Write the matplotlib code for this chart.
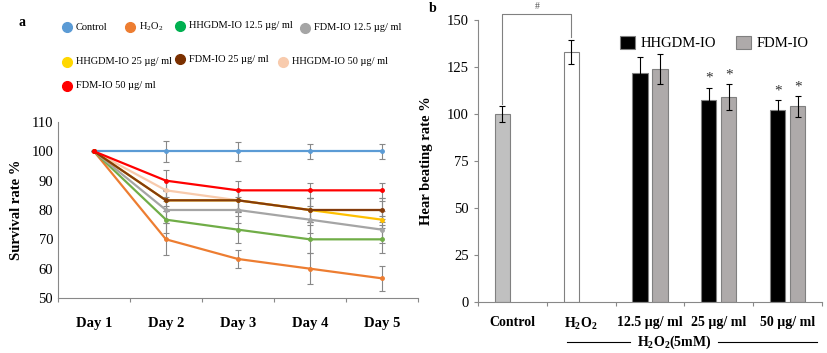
import numpy as np
import matplotlib
matplotlib.use('Agg')
import matplotlib.pyplot as plt
from matplotlib.lines import Line2D

plt.rcParams['font.family'] = ['Liberation Serif', 'DejaVu Serif']
plt.rcParams['mathtext.fontset'] = 'custom'
plt.rcParams['mathtext.rm'] = 'Liberation Serif'
plt.rcParams['mathtext.bf'] = 'Liberation Serif:bold'

# ---- panel a data ----
days = ['Day 1', 'Day 2', 'Day 3', 'Day 4', 'Day 5']
series_names = ['Control', 'H$_2$O$_2$', 'HHGDM-IO 12.5 µg/ ml', 'FDM-IO 12.5 µg/ ml',
                'HHGDM-IO 25 µg/ ml', 'FDM-IO 25 µg/ ml', 'HHGDM-IO 50 µg/ ml', 'FDM-IO 50 µg/ ml']
series_colors = ['#5B9BD5', '#ED7D31', '#70AD47', '#A5A5A5',
                 '#FFC000', '#843C0C', '#F8CBAD', '#FF0000']
legend_colors = ['#5B9BD5', '#ED7D31', '#00B050', '#A5A5A5',
                 '#FFD700', '#7B3000', '#F8CBAD', '#FF0000']
control = [100, 100, 100, 100, 100]
h2o2 = [100, 70, 63.3, 60, 56.7]
hh_125 = [100, 76.7, 73.3, 70, 70]
fdm_125 = [100, 80, 80, 76.7, 73.3]
hh_25 = [100, 83.3, 83.3, 80, 76.7]
fdm_25 = [100, 83.3, 83.3, 80, 80]
hh_50 = [100, 86.7, 83.3, 80, 80]
fdm_50 = [100, 90, 86.7, 86.7, 86.7]
err_control = [0, 3.5, 3.2, 2.5, 2.5]
err_h2o2 = [0, 5.5, 3.2, 5.3, 4.2]
err_hh_125 = [0, 4.5, 4.5, 4.8, 4.8]
err_fdm_125 = [0, 4.5, 4.5, 4.5, 4.5]
err_hh_25 = [0, 3.5, 4.0, 4.0, 3.0]
err_fdm_25 = [0, 3.5, 4.0, 4.0, 3.0]
err_hh_50 = [0, 3.5, 3.5, 4.0, 4.0]
err_fdm_50 = [0, 3.5, 3.2, 2.5, 2.5]

# ---- panel b data ----
groups = ['Control', 'H$_\\mathbf{2}$O$_\\mathbf{2}$', '12.5 µg/ ml', '25 µg/ ml', '50 µg/ ml']
single_vals = [100, 133]
single_errs = [4.5, 6.5]
hh_vals = [122, 107.5, 102]
hh_errs = [8.5, 6.5, 5.5]
fdm_vals = [124, 109, 104]
fdm_errs = [8.0, 7.0, 5.5]

fig = plt.figure(figsize=(8.27, 3.53), dpi=100)

# ---------------- panel a ----------------
ax = fig.add_axes([0.0701, 0.1558, 0.4353, 0.4986])
x = np.arange(len(days))
all_series = [control, h2o2, hh_125, fdm_125, hh_25, fdm_25, hh_50, fdm_50]
all_errs = [err_control, err_h2o2, err_hh_125, err_fdm_125, err_hh_25, err_fdm_25, err_hh_50, err_fdm_50]
for vals, errs in zip(all_series, all_errs):
    ax.errorbar(x, vals, yerr=errs, fmt='none', ecolor='#888888', elinewidth=0.8,
                capsize=2, capthick=0.8, zorder=2)
# drawing order: peach under yellow/brown, red on top
draw_order = [0, 1, 2, 3, 6, 4, 5, 7]
for i in draw_order:
    ax.plot(x, all_series[i], color=series_colors[i], lw=1.6, marker='o', ms=2.5, zorder=3)

ax.set_xlim(-0.5, 4.5)
ax.set_ylim(50, 110)
ax.set_yticks(range(50, 111, 10))
ax.set_xticks(np.arange(-0.5, 4.6, 1), minor=False)
ax.set_xticklabels([])
ax.set_xticks(x, minor=True)
ax.set_xticklabels(days, minor=True, fontweight='bold', fontsize=10.5)
ax.tick_params(axis='x', which='minor', length=0, pad=14)
ax.tick_params(axis='x', which='major', length=3, color='#888888')
ax.tick_params(axis='y', length=0, labelsize=10.5)
ax.spines['top'].set_visible(False)
ax.spines['right'].set_visible(False)
for s in ['left', 'bottom']:
    ax.spines[s].set_color('#888888')
ax.set_ylabel('Survival rate %', fontweight='bold', fontsize=10.5, labelpad=6)

fig.text(0.022, 0.925, 'a', fontweight='bold', fontsize=10)

# manual legend of panel a
leg_pos = [(67, 27), (130, 27), (180, 26), (305, 28),
           (67, 62), (180, 59), (283, 62), (67, 86)]
for (px, py), name, col in zip(leg_pos, series_names, legend_colors):
    fig.add_artist(Line2D([px / 827], [1 - py / 353], marker='o', ms=7, color=col,
                          ls='none', transform=fig.transFigure))
    fig.text((px + 9) / 827, 1 - py / 353, name, fontsize=7.5, va='center')

# ---------------- panel b ----------------
bx = fig.add_axes([0.578, 0.1445, 0.416, 0.7989])
bw = 0.22
off = 0.145
gx = np.arange(len(groups))
bx.bar(gx[0] - off, single_vals[0], bw, color='#C0C0C0', edgecolor='#808080', lw=0.8, zorder=2)
bx.bar(gx[1] - off, single_vals[1], bw, color='white', edgecolor='#808080', lw=0.8, zorder=2)
bx.errorbar(gx[:2] - off, single_vals, yerr=single_errs, fmt='none', ecolor='black',
            elinewidth=0.8, capsize=2, capthick=0.8, zorder=3)
bx.bar(gx[2:] - off, hh_vals, bw, color='black', edgecolor='#808080', lw=0.8,
       label='HHGDM-IO', zorder=2)
bx.bar(gx[2:] + off, fdm_vals, bw, color='#AEAAAA', edgecolor='#808080', lw=0.8,
       label='FDM-IO', zorder=2)
bx.errorbar(gx[2:] - off, hh_vals, yerr=hh_errs, fmt='none', ecolor='black',
            elinewidth=0.8, capsize=2, capthick=0.8, zorder=3)
bx.errorbar(gx[2:] + off, fdm_vals, yerr=fdm_errs, fmt='none', ecolor='black',
            elinewidth=0.8, capsize=2, capthick=0.8, zorder=3)

# significance stars
for i in [3, 4]:
    for xx, v, e in [(gx[i] - off, hh_vals[i - 2], hh_errs[i - 2]),
                     (gx[i] + off, fdm_vals[i - 2], fdm_errs[i - 2])]:
        bx.text(xx, v + e + 1.5, '*', ha='center', va='bottom', fontsize=11, color='#333333')

# bracket with #
bx.plot([gx[0] - off, gx[0] - off, gx[1] - off, gx[1] - off],
        [single_vals[0] + single_errs[0] + 1, 153, 153, single_vals[1] + single_errs[1] + 1.5],
        color='#808080', lw=0.8, clip_on=False)
bx.text((gx[0] + gx[1]) / 2 - off, 155, '#', ha='center', va='bottom', fontsize=7, color='#555555')

bx.set_xlim(-0.5, 4.5)
bx.set_ylim(0, 150)
bx.set_yticks(range(0, 151, 25))
bx.set_xticks(np.arange(-0.5, 4.6, 1))
bx.set_xticklabels([])
bx.set_xticks(gx, minor=True)
bx.set_xticklabels(groups, minor=True, fontweight='bold', fontsize=10)
bx.tick_params(axis='x', which='minor', length=0, pad=10)
bx.tick_params(axis='x', which='major', length=3, color='#888888')
bx.tick_params(axis='y', length=3, color='#888888', labelsize=10.5)
bx.spines['top'].set_visible(False)
bx.spines['right'].set_visible(False)
for s in ['left', 'bottom']:
    bx.spines[s].set_color('#888888')
bx.set_ylabel('Hear beating rate %', fontweight='bold', fontsize=10.5, labelpad=10)
bx.legend(loc='upper right', bbox_to_anchor=(1.0, 0.99), ncol=2, frameon=False,
          fontsize=10.5, handlelength=1.0, handleheight=1.0, handletextpad=0.4,
          columnspacing=1.4)

fig.text(0.519, 0.965, 'b', fontweight='bold', fontsize=10)

# H2O2 (5mM) annotation under the axis
fig.add_artist(Line2D([567 / 827, 630 / 827], [1 - 342 / 353] * 2, color='black', lw=0.8))
fig.add_artist(Line2D([718 / 827, 817 / 827], [1 - 342 / 353] * 2, color='black', lw=0.8))
fig.text(674 / 827, 1 - 342 / 353, 'H$_\\mathbf{2}$O$_\\mathbf{2}$(5mM)', ha='center', va='center',
         fontweight='bold', fontsize=10)

fig.savefig('out.png', dpi=100)
